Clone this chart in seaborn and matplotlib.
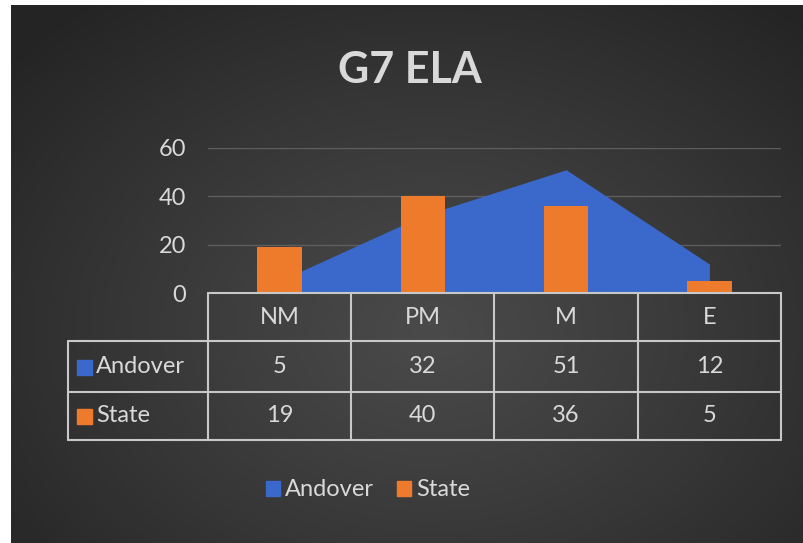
import numpy as np
import matplotlib
matplotlib.use("Agg")
import matplotlib.pyplot as plt
import seaborn as sns
import pandas as pd
from matplotlib.patches import Patch, Rectangle

# ---- data ----
categories = ["NM", "PM", "M", "E"]
andover = [5, 32, 51, 12]
state = [19, 40, 36, 5]
series_names = ["Andover", "State"]
y_ticks = [0, 20, 40, 60]
title = "G7 ELA"

BLUE = "#3a69cb"
ORANGE = "#ee7b2c"
TXT = "#d9d9d9"
LINE = "#c8c8c8"

sns.set_theme(style="dark")
plt.rcParams["font.family"] = ["Lato", "DejaVu Sans"]

W, H = 804, 543
fig = plt.figure(figsize=(W / 100, H / 100), dpi=100)
fig.patch.set_facecolor("#2a2a2a")

def fx(px):
    return px / W

def fy(py):
    return 1 - py / H

# ---- background radial gradient ----
bg = fig.add_axes([0, 0, 1, 1], zorder=0)
yy, xx = np.mgrid[0:H, 0:W]
cx, cy = 430, 330
r = np.sqrt(((xx - cx) / 560) ** 2 + ((yy - cy) / 420) ** 2)
r = np.clip(r, 0, 1)
val = 0x4a - (0x4a - 0x24) * r ** 1.1
img = np.dstack([val, val, val]) / 255.0
img[:, :11] = 1.0
img[:5, :] = 1.0
bg.imshow(img, aspect="auto", extent=[0, W, H, 0], interpolation="nearest")
bg.set_xlim(0, W)
bg.set_ylim(H, 0)
bg.axis("off")

# ---- main plot ----
x0, x1 = 208, 781
ytop, ybot = 148, 293
ax = fig.add_axes([fx(x0), fy(ybot), fx(x1 - x0), (ybot - ytop) / H], zorder=2)
ax.patch.set_alpha(0)

df = pd.DataFrame({"cat": categories, "State": state})
pos = np.arange(len(categories))
ax.fill_between(pos, 0, andover, color=BLUE, lw=0, zorder=1)
sns.barplot(data=df, x="cat", y="State", color=ORANGE, width=0.31,
            saturation=1, ax=ax, zorder=3, edgecolor="none", linewidth=0)
ax.set_xlim(-0.5, len(categories) - 0.5)
ax.set_ylim(0, 60)
ax.set_yticks(y_ticks)
ax.set_yticklabels([str(t) for t in y_ticks], color=TXT, fontsize=17)
ax.tick_params(axis="y", length=0, pad=16)
ax.set_xticks([])
ax.set_xlabel("")
ax.set_ylabel("")
ax.grid(axis="y", color="#5e5e5e", lw=1.0, zorder=0)
ax.set_axisbelow(True)
for s in ax.spines.values():
    s.set_visible(False)

# ---- data table ----
tab = fig.add_axes([0, 0, 1, 1], zorder=3)
tab.set_xlim(0, W)
tab.set_ylim(H, 0)
tab.axis("off")
tab.patch.set_alpha(0)
col_w = (x1 - x0) / len(categories)
rows_y = [293, 341, 392, 440]
lbl_x = 68
lw = 1.5
tab.plot([x0, x1], [rows_y[0]] * 2, color=LINE, lw=lw)
for yv in rows_y[1:]:
    tab.plot([lbl_x, x1], [yv] * 2, color=LINE, lw=lw)
tab.plot([lbl_x, lbl_x], [rows_y[1], rows_y[3]], color=LINE, lw=lw)
for i in range(len(categories) + 1):
    xv = x0 + i * col_w
    tab.plot([xv, xv], [rows_y[0], rows_y[3]], color=LINE, lw=lw)

for i, c in enumerate(categories):
    xc = x0 + (i + 0.5) * col_w
    tab.text(xc, (rows_y[0] + rows_y[1]) / 2, c, color=TXT, fontsize=17,
             ha="center", va="center")
    tab.text(xc, (rows_y[1] + rows_y[2]) / 2, str(andover[i]), color=TXT,
             fontsize=17, ha="center", va="center")
    tab.text(xc, (rows_y[2] + rows_y[3]) / 2, str(state[i]), color=TXT,
             fontsize=17, ha="center", va="center")

for j, (name, col) in enumerate(zip(series_names, [BLUE, ORANGE])):
    yc = (rows_y[1 + j] + rows_y[2 + j]) / 2
    tab.add_patch(Rectangle((77, yc - 7), 15, 15, color=col))
    tab.text(96, yc, name, color=TXT, fontsize=17, ha="left", va="center")

# ---- title ----
fig.text(fx(410), fy(70), title, color=TXT, fontsize=31, fontweight="bold",
         ha="center", va="center")

# ---- legend ----
handles = [Patch(color=BLUE, label=series_names[0]),
           Patch(color=ORANGE, label=series_names[1])]
leg = fig.legend(handles=handles, loc="center", bbox_to_anchor=(fx(368), fy(490)),
                 ncol=2, frameon=False, fontsize=17, handlelength=0.6,
                 handleheight=0.6, handletextpad=0.2, columnspacing=1.0)
for t in leg.get_texts():
    t.set_color(TXT)

fig.savefig("out.png", dpi=100)
